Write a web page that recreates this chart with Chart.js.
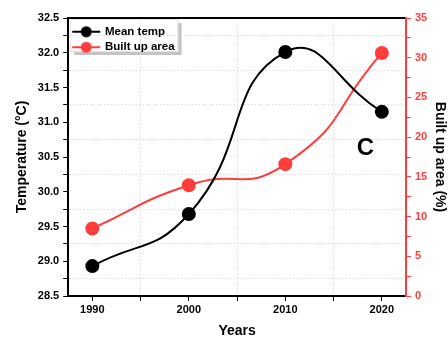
<!DOCTYPE html>
<html><head><meta charset="utf-8">
<script src="https://cdn.jsdelivr.net/npm/chart.js@4.4.1/dist/chart.umd.min.js"></script>
<style>html,body{margin:0;padding:0;background:#fff}#wrap{width:448px;height:340px}</style>
</head><body><div id="wrap"><canvas id="c" width="448" height="340"></canvas></div>
<script>
const years = [1990, 2000, 2010, 2020];
const meanTemp = [28.93, 29.68, 32.01, 31.15];
const builtUp = [8.5, 13.95, 16.6, 30.6];
const xTicks = [1990, 1995, 2000, 2005, 2010, 2015, 2020];
const tempTicks = [28.5, 28.75, 29, 29.25, 29.5, 29.75, 30, 30.25, 30.5, 30.75, 31, 31.25, 31.5, 31.75, 32, 32.25, 32.5];
const areaTicks = [0, 2.5, 5, 7.5, 10, 12.5, 15, 17.5, 20, 22.5, 25, 27.5, 30, 32.5, 35];
const seriesNames = ['Mean temp', 'Built up area'];
const panelLabel = 'C';

const F = 'Liberation Sans, Arial, sans-serif';
const RED = '#ff3d3d';
function legendIcon(color){
  const c = document.createElement('canvas'); c.width = 30; c.height = 14;
  const g = c.getContext('2d');
  g.strokeStyle = color; g.lineWidth = 2;
  g.beginPath(); g.moveTo(1,7); g.lineTo(29,7); g.stroke();
  g.fillStyle = color; g.beginPath(); g.arc(15,7,5.5,0,Math.PI*2); g.fill();
  return c;
}
const icons = [legendIcon('#000'), legendIcon(RED)];

const legendBox = {
  id: 'legendBox',
  afterLayout(chart){
    const l = chart.legend; if(!l) return;
    l.left += 1; l.top += 22;
  },
  beforeDraw(chart){
    const l = chart.legend; if(!l || !l.legendHitBoxes) return;
    const hb = l.legendHitBoxes;
    const maxW = Math.max(...hb.map(b=>b.width));
    const sumH = hb.reduce((a,b)=>a+b.height,0);
    const g = chart.ctx; g.save();
    const x = l.left + 1, y = l.top - 3, w = maxW + 6, h = sumH + 9;
    g.fillStyle = '#c4c4c4'; g.fillRect(x+4, y+4, w, h);
    g.fillStyle = '#fff'; g.fillRect(x, y, w, h);
    g.strokeStyle = '#e4e4e4'; g.lineWidth = 1; g.strokeRect(x+0.5, y+0.5, w, h);
    g.restore();
  }
};
const panelText = {
  id: 'panelText',
  afterDatasetsDraw(chart){
    const g = chart.ctx; g.save();
    g.font = 'bold 24px ' + F; g.fillStyle = '#000'; g.textAlign = 'center'; g.textBaseline = 'middle';
    g.fillText(panelLabel, chart.scales.x.getPixelForValue(2018.3), chart.scales.y.getPixelForValue(30.62));
    g.restore();
  }
};

new Chart(document.getElementById('c'), {
  type: 'line',
  data: {
    datasets: [
      { label: seriesNames[0], data: years.map((x,i)=>({x, y: meanTemp[i]})), yAxisID: 'y',
        borderColor: '#000', backgroundColor: '#000', borderWidth: 2, pointRadius: 6, pointHoverRadius: 6, tension: 0.5, pointStyle: 'circle' },
      { label: seriesNames[1], data: years.map((x,i)=>({x, y: builtUp[i]})), yAxisID: 'y1',
        borderColor: RED, backgroundColor: RED, borderWidth: 2, pointRadius: 6, pointHoverRadius: 6, tension: 0.55, pointStyle: 'circle' }
    ]
  },
  options: {
    responsive: false, animation: false, devicePixelRatio: 1,
    layout: { padding: { left: 14, right: 0, top: 18, bottom: 0 } },
    plugins: {
      tooltip: { enabled: false },
      legend: {
        position: 'chartArea', align: 'start',
        labels: {
          font: { family: F, size: 11.5, weight: 'bold' }, color: '#000',
          usePointStyle: true, pointStyleWidth: 26, padding: 4, boxHeight: 14,
          generateLabels(chart){
            return chart.data.datasets.map((d,i)=>({ text: d.label, pointStyle: icons[i], datasetIndex: i, fontColor: '#000', lineWidth: 0, strokeStyle: 'transparent', fillStyle: 'transparent' }));
          }
        }
      }
    },
    scales: {
      x: {
        type: 'linear', min: 1987.5, max: 2022.5, position: 'bottom',
        afterBuildTicks(s){ s.ticks = xTicks.map(v=>({value:v})); },
        ticks: { autoSkip: false, color: '#000', font: { family: F, size: 11, weight: 'bold' },
          callback: v => (v % 10 === 0 ? String(v) : ''), padding: 2 },
        grid: { color: c => (c.tick && c.tick.value % 10 !== 0 ? '#dcdcdc' : 'transparent'), tickColor: '#000', tickLength: 5, lineWidth: 1 },
        border: { color: '#000', width: 2, dash: [1.5, 2] },
        title: { display: true, text: 'Years', color: '#000', font: { family: F, size: 14, weight: 'bold' }, padding: { top: 5, bottom: 0 } }
      },
      x2: {
        type: 'linear', min: 1987.5, max: 2022.5, position: 'top',
        ticks: { display: false }, grid: { display: false, drawTicks: false },
        border: { color: '#000', width: 2 }
      },
      y: {
        min: 28.5, max: 32.5, position: 'left',
        afterBuildTicks(s){ s.ticks = tempTicks.map(v=>({value:v})); },
        ticks: { autoSkip: false, color: '#000', font: { family: F, size: 11, weight: 'bold' },
          callback: v => (Math.abs(v*2 - Math.round(v*2)) < 1e-6 ? v.toFixed(1) : ''), padding: 4 },
        grid: { color: c => (c.tick && Math.abs(c.tick.value*2 - Math.round(c.tick.value*2)) > 1e-6 ? '#dcdcdc' : 'transparent'), tickColor: '#000', tickLength: 5 },
        border: { color: '#000', width: 2, dash: [1.5, 2] },
        title: { display: true, text: 'Temperature (°C)', color: '#000', font: { family: F, size: 14, weight: 'bold' }, padding: { top: 0, bottom: 3 } }
      },
      y1: {
        min: 0, max: 35, position: 'right',
        afterBuildTicks(s){ s.ticks = areaTicks.map(v=>({value:v})); },
        ticks: { autoSkip: false, color: RED, font: { family: F, size: 11, weight: 'bold' },
          callback: v => (v % 5 === 0 ? String(v) : ''), padding: 4 },
        grid: { drawOnChartArea: false, color: RED, tickColor: RED, tickLength: 5 },
        border: { color: RED, width: 2 },
        title: { display: true, text: 'Built up area (%)', color: '#000', font: { family: F, size: 14, weight: 'bold' }, padding: { top: 0, bottom: 0 } }
      }
    }
  },
  plugins: [legendBox, panelText]
});
</script></body></html>
